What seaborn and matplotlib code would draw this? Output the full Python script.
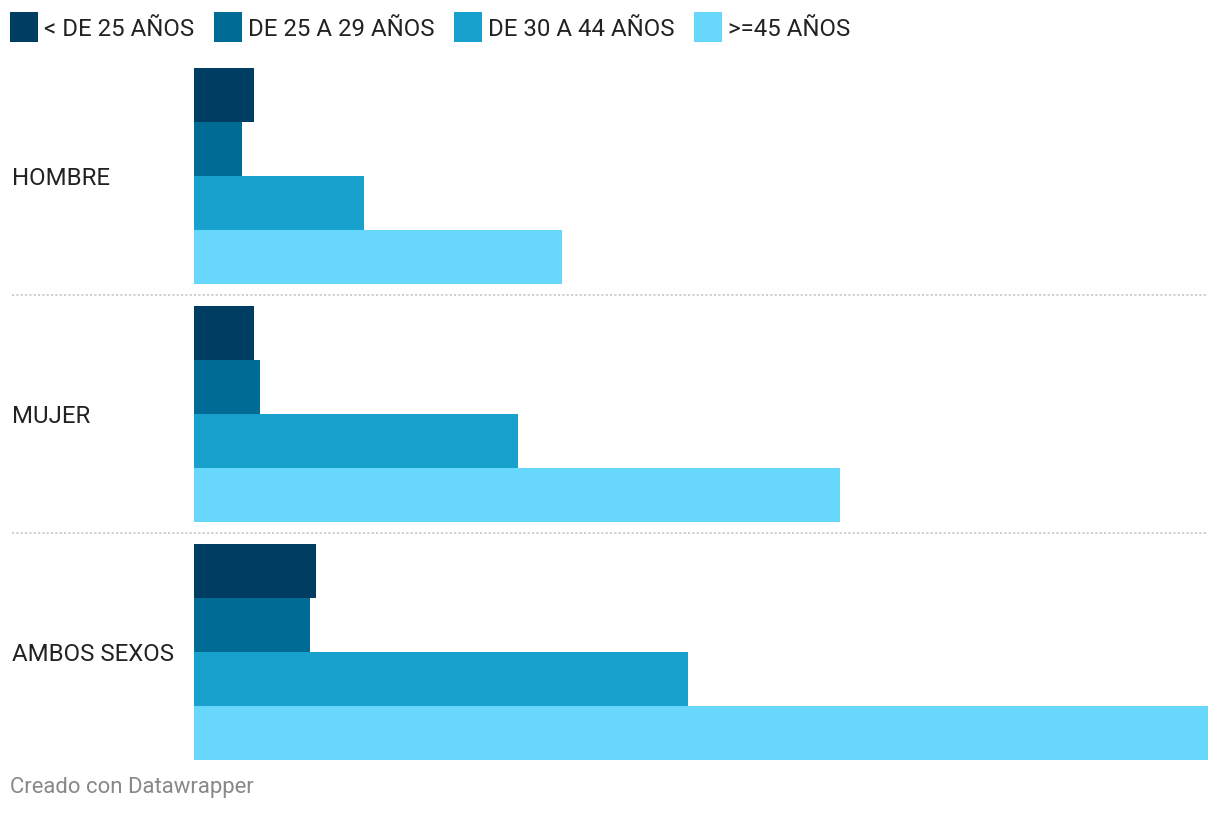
import matplotlib
matplotlib.use("Agg")
import matplotlib.pyplot as plt
import matplotlib.transforms as mtransforms
from matplotlib.patches import Rectangle
from matplotlib.lines import Line2D
import seaborn as sns
import pandas as pd

categories = ["HOMBRE", "MUJER", "AMBOS SEXOS"]
age_groups = ["< DE 25 AÑOS", "DE 25 A 29 AÑOS", "DE 30 A 44 AÑOS", ">=45 AÑOS"]
v_lt25 = [60, 60, 122]
v_25_29 = [48, 66, 116]
v_30_44 = [170, 324, 494]
v_ge45 = [368, 646, 1014]
colors = ["#003d62", "#006c96", "#18a1cd", "#68d7fc"]

rows = []
for g, vals in zip(age_groups, [v_lt25, v_25_29, v_30_44, v_ge45]):
    for c, v in zip(categories, vals):
        rows.append({"cat": c, "grupo": g, "valor": v})
df = pd.DataFrame(rows)

sns.set_style("white")
plt.rcParams["font.family"] = ["Roboto", "DejaVu Sans"]

W, H = 1220, 838
fig = plt.figure(figsize=(W / 100, H / 100), dpi=100)
ax = fig.add_axes([194 / W, 1 - 771 / H, (1208 - 194) / W, (771 - 57) / H])

sns.barplot(data=df, y="cat", x="valor", hue="grupo", order=categories,
            hue_order=age_groups, palette=colors, orient="h", width=216 / 238,
            gap=0, saturation=1, linewidth=0, legend=False, ax=ax)

ax.set_xlim(0, max(v_ge45))
ax.set_ylim(2.5, -0.5)
ax.set_xticks([])
ax.set_yticks([])
ax.set_xlabel("")
ax.set_ylabel("")
for s in ax.spines.values():
    s.set_visible(False)

trans = mtransforms.blended_transform_factory(fig.transFigure, ax.transData)
for i, c in enumerate(categories):
    ax.text(12 / W, i, c, transform=trans, ha="left", va="center_baseline",
            fontsize=17.3, color="#222222")
for yv in [0.5, 1.5]:
    ax.add_line(Line2D([12 / W, 1208 / W], [yv, yv], transform=trans,
                       color="#cccccc", linestyle=(0, (1.2, 1.2)), linewidth=1.3,
                       clip_on=False))

# legend
leg_x = [10, 214, 454, 694]
for x0, lab, col in zip(leg_x, age_groups, colors):
    fig.patches.append(Rectangle((x0 / W, 1 - 42 / H), 28 / W, 30 / H,
                                 transform=fig.transFigure, facecolor=col,
                                 edgecolor="none"))
    fig.text((x0 + 34) / W, 1 - 27 / H, lab, ha="left", va="center_baseline",
             fontsize=17.3, color="#222222")

fig.text(10 / W, 1 - 785 / H, "Creado con Datawrapper", ha="left", va="center_baseline",
         fontsize=15.9, color="#888888")

fig.savefig("out.png", dpi=100)
